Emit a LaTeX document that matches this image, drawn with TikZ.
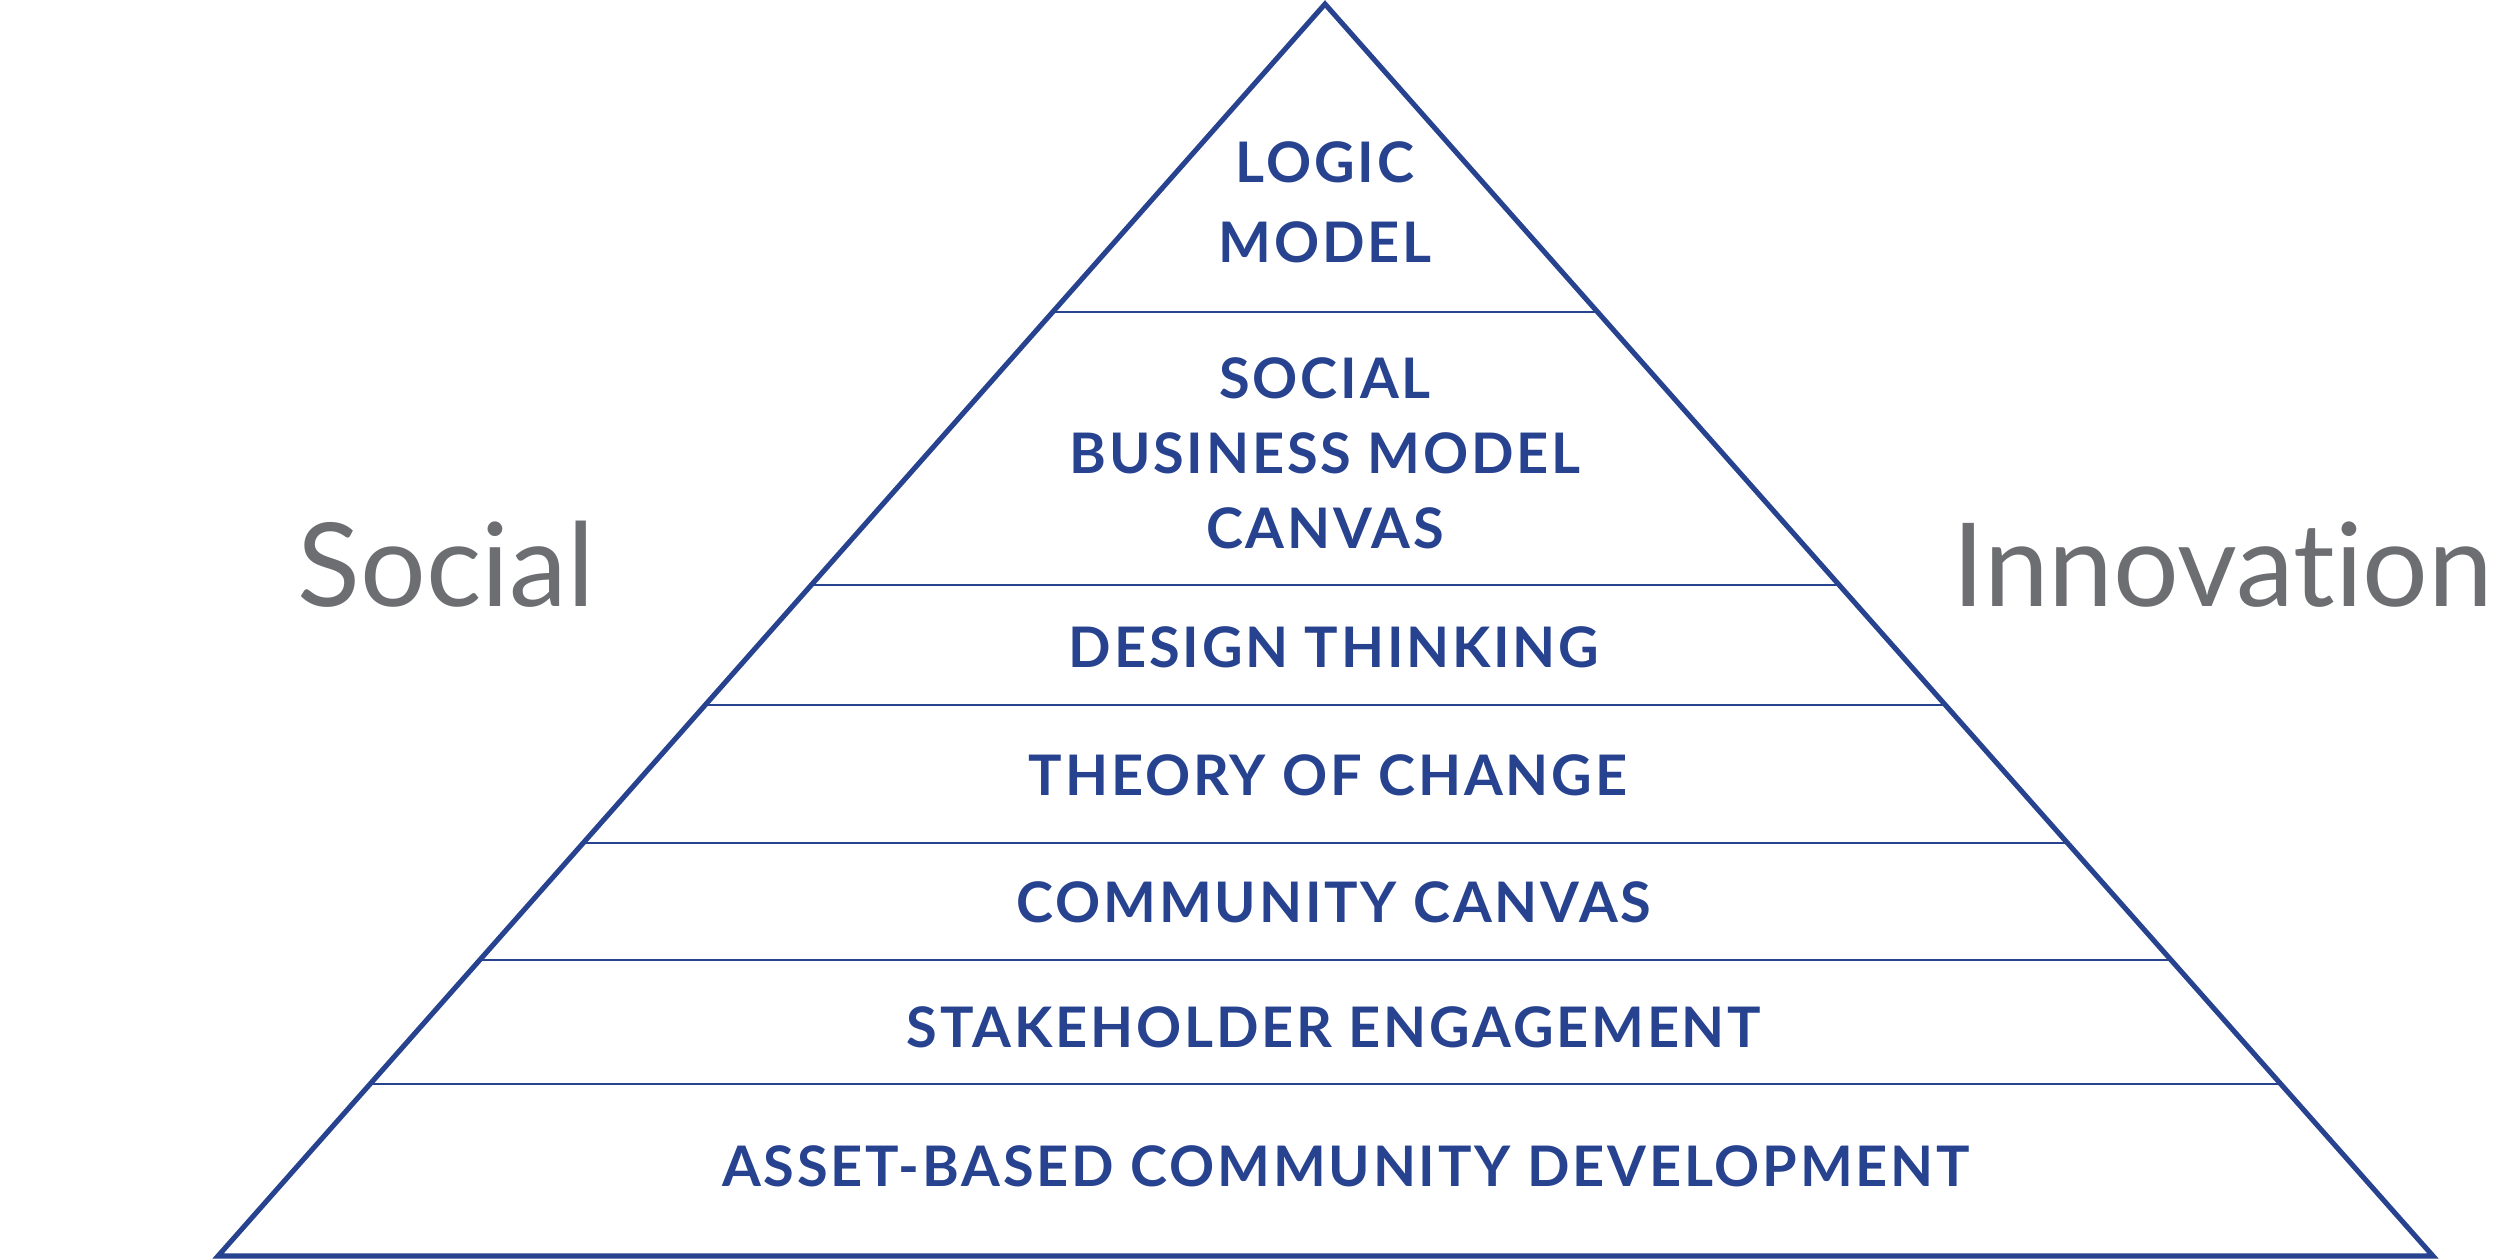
\documentclass[tikz,border=0pt]{standalone}
\usepackage{fontspec}
\setmainfont{Lato}[Ligatures=NoCommon]
\newfontfamily\layerfont[LetterSpace=5]{Lato}
\definecolor{pyrblue}{HTML}{27428F}
\definecolor{sidegray}{HTML}{6D6E71}

\begin{document}
\begin{tikzpicture}[
  x=0.01cm, y=-0.01cm,
  layer/.style={text=pyrblue, inner sep=0pt, align=center,
    font=\layerfont\bfseries\fontsize{15.9}{22.8}\selectfont},
  side/.style={text=sidegray, inner sep=0pt,
    font=\fontsize{33}{40}\selectfont},
  outline/.style={draw=pyrblue, line width=1.45pt, line join=miter},
  divider/.style={draw=pyrblue, line width=0.65pt}
]
  \useasboundingbox (0,0) rectangle (2500,1259);

  % Pyramid outline
  \coordinate (apex) at (1325,4);
  \coordinate (bl) at (218,1256);
  \coordinate (br) at (2433,1256);
  \draw[outline] (apex) -- (bl) -- (br) -- cycle;

  % Dividers between the layers
  \foreach \ypos/\lname in {312/a, 585/b, 705/c, 843/d, 960/e, 1084/f}{
    \pgfmathsetmacro{\xl}{1325-(1107/1252)*(\ypos-4)}
    \pgfmathsetmacro{\xr}{1325+(1108/1252)*(\ypos-4)}
    \coordinate (\lname l) at (\xl,\ypos);
    \coordinate (\lname r) at (\xr,\ypos);
    \draw[divider] (\lname l) -- (\lname r);
  }

  % Layers, top to bottom
  \node[layer] (logic) at (1325,202) {LOGIC\\MODEL};
  \node[layer, font=\layerfont\bfseries\fontsize{15.9}{21.3}\selectfont] (sbmc) at (1325,453)
    {SOCIAL\\BUSINESS MODEL\\CANVAS};
  \node[layer] (design) at (1334,647) {DESIGN THINKING};
  \node[layer] (theory) at (1328,775) {THEORY OF CHANGE};
  \node[layer] (commcanvas) at (1334,902) {COMMUNITY CANVAS};
  \node[layer] (stake) at (1334,1027) {STAKEHOLDER ENGAGEMENT};
  \node[layer] (abcd) at (1346,1166) {ASSET-BASED COMMUNITY DEVELOPMENT};

  % Side labels
  \node[side, anchor=base west] (social) at (297,606) {Social};
  \node[side, anchor=base east] (innov) at (2494,606) {Innovation};
\end{tikzpicture}
\end{document}
